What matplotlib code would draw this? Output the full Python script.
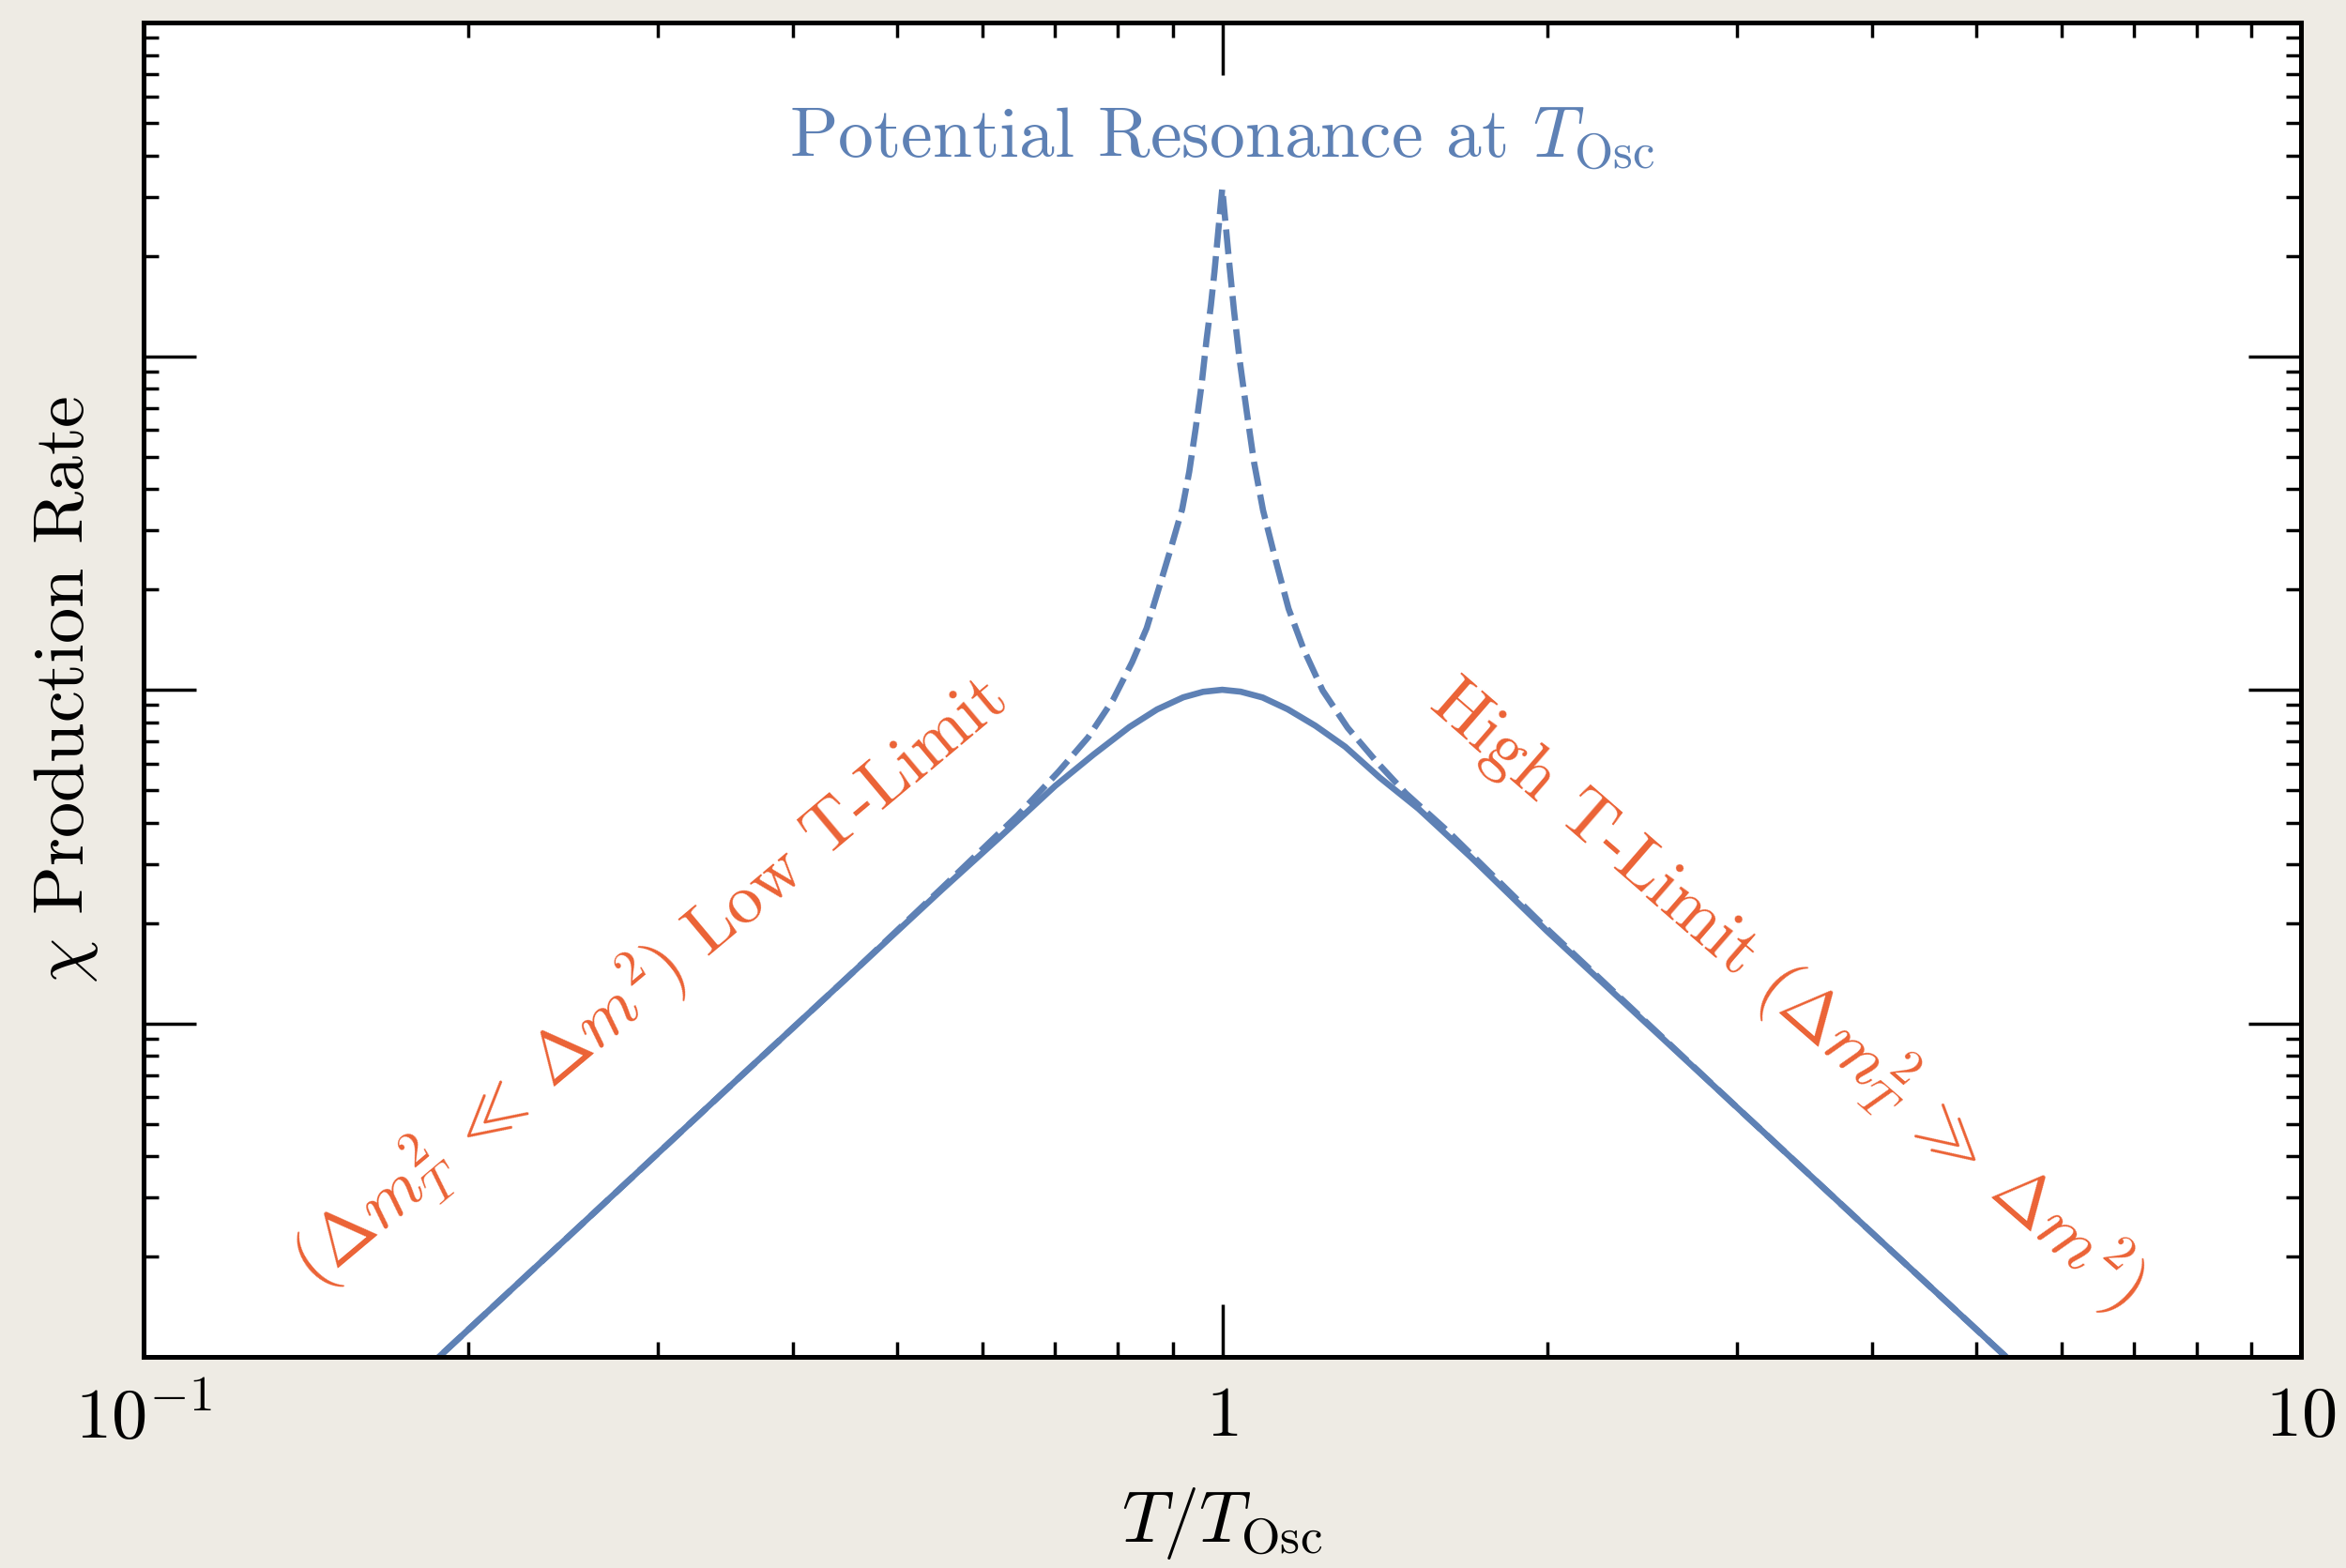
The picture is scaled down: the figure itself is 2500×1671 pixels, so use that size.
import matplotlib
matplotlib.use("Agg")
import matplotlib.pyplot as plt
from matplotlib.ticker import FixedLocator, FixedFormatter, LogLocator, NullFormatter

plt.rcParams['font.family'] = 'serif'
plt.rcParams['font.serif'] = ['cmr10']
plt.rcParams['mathtext.fontset'] = 'cm'
plt.rcParams['axes.unicode_minus'] = False

BLUE = '#5e81b5'
ORANGE = '#eb6235'

# production rate with thermal mass (solid)
t_solid = [0.18, 0.25, 0.35, 0.45, 0.55, 0.62, 0.70, 0.76, 0.82, 0.87, 0.92, 0.96,
           1.0, 1.04, 1.09, 1.15, 1.22, 1.30, 1.40, 1.52, 1.70, 2.0, 3.0, 4.0, 5.5]
rate_solid = [0.0088, 0.0236, 0.065, 0.138, 0.252, 0.358, 0.515, 0.64, 0.773, 0.873, 0.949, 0.986,
              1.0, 0.987, 0.948, 0.874, 0.78, 0.675, 0.545, 0.44, 0.315, 0.189, 0.056, 0.0236, 0.0091]

# resonant production (dashed)
t_dash = [0.18, 0.25, 0.35, 0.45, 0.55, 0.646, 0.705, 0.751, 0.792, 0.825, 0.851, 0.874,
          0.895, 0.918, 0.932, 0.945, 0.957, 0.967, 0.976, 0.9835, 0.991, 1.0,
          1.006, 1.0155, 1.0256, 1.0375, 1.0537, 1.070, 1.091, 1.122, 1.152, 1.190,
          1.239, 1.307, 1.391, 1.480, 1.618, 2.0, 3.0, 4.0, 5.5]
rate_dash = [0.0088, 0.0236, 0.065, 0.138, 0.255, 0.42, 0.568, 0.72, 0.933, 1.21, 1.53, 2.03,
             2.62, 3.48, 4.51, 6.1, 8.26, 11.2, 14.2, 17.9, 23.3, 31.8,
             25.9, 18.7, 13.6, 9.8, 6.8, 4.82, 3.45, 2.41, 1.75, 1.32,
             0.995, 0.769, 0.607, 0.489, 0.377, 0.192, 0.056, 0.0236, 0.0091]

x_ticks = [0.1, 1, 10]
x_ticklabels = [r'$10^{-1}$', r'$1$', r'$10$']

fig = plt.figure(figsize=(10, 6.684), dpi=250, facecolor='#eeebe4')
ax = fig.add_axes([0.0612, 0.1346, 0.9196, 0.851])
ax.set_facecolor('white')

ax.plot(t_dash, rate_dash, color=BLUE, lw=1.9, dashes=(4.0, 1.4), dash_capstyle='butt')
ax.plot(t_solid, rate_solid, color=BLUE, lw=1.9)

ax.set_xscale('log')
ax.set_yscale('log')
ax.set_xlim(0.1, 10)
ax.set_ylim(0.01, 100)

ax.xaxis.set_major_locator(FixedLocator(x_ticks))
ax.xaxis.set_major_formatter(FixedFormatter(x_ticklabels))
ax.xaxis.set_minor_locator(LogLocator(base=10, subs=range(2, 10)))
ax.xaxis.set_minor_formatter(NullFormatter())
ax.yaxis.set_major_locator(LogLocator(base=10, numticks=10))
ax.yaxis.set_minor_locator(LogLocator(base=10, subs=range(2, 10), numticks=20))
ax.yaxis.set_major_formatter(NullFormatter())
ax.yaxis.set_minor_formatter(NullFormatter())

ax.tick_params(which='both', direction='in', top=True, right=True, width=1.0)
ax.tick_params(which='major', length=16, labelsize=22, pad=9)
ax.tick_params(which='minor', length=4.5)
for s in ax.spines.values():
    s.set_linewidth(1.45)

ax.set_xlabel(r'$T/T_{\mathrm{Osc}}$', fontsize=22)
ax.xaxis.set_label_coords(0.5, -0.096)
ax.set_ylabel(r'$\chi$ Production Rate', fontsize=22)
ax.yaxis.set_label_coords(-0.020, 0.5)

ax.text(1.0, 39.5, r'Potential Resonance at $T_{\mathrm{Osc}}$', color=BLUE,
        fontsize=21.8, ha='center', va='baseline')
ax.text(0.294, 0.134, r'$(\Delta m_T^2 \;\ll\; \Delta m^2)$ Low T-Limit', color=ORANGE,
        fontsize=21.5, ha='center', va='center', rotation=40, rotation_mode='anchor')
ax.text(3.34, 0.123, r'High T-Limit $(\Delta m_T^2 \;\gg\; \Delta m^2)$', color=ORANGE,
        fontsize=21.5, ha='center', va='center', rotation=-41, rotation_mode='anchor')

fig.savefig('out.png', dpi=250, facecolor=fig.get_facecolor())
